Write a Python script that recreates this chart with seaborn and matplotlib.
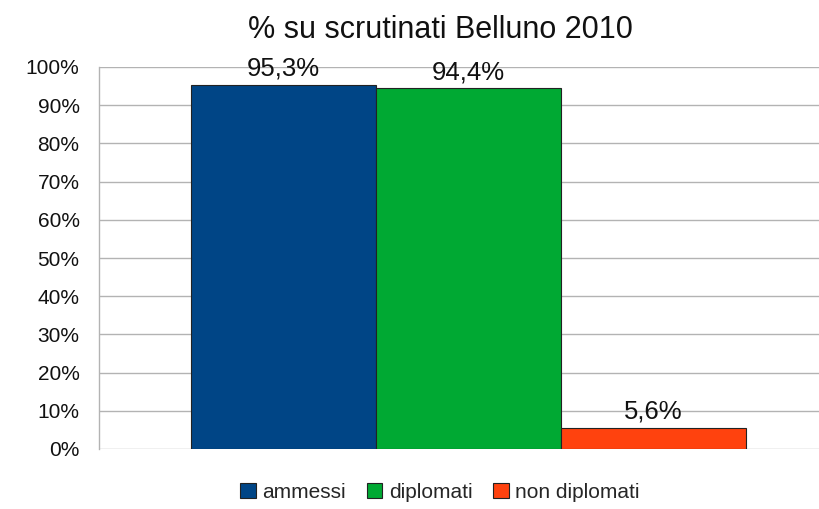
import matplotlib
matplotlib.use("Agg")
import matplotlib.pyplot as plt
from matplotlib.patches import Patch
import pandas as pd
import seaborn as sns

# data
title = "% su scrutinati Belluno 2010"
series = ["ammessi", "diplomati", "non diplomati"]
values = [95.3, 94.4, 5.6]
colors = ["#004586", "#00a933", "#ff420e"]
yticks = [0, 10, 20, 30, 40, 50, 60, 70, 80, 90, 100]

sns.set_style("white")
plt.rcParams["font.family"] = ["Liberation Sans", "DejaVu Sans"]

df = pd.DataFrame({"cat": ["Belluno"] * len(series), "serie": series, "valore": values})

fig = plt.figure(figsize=(8.2, 5.09), dpi=100)
ax = fig.add_axes([99 / 820, 1 - 449 / 509, (838 - 99) / 820, (449 - 67) / 509])

sns.barplot(data=df, x="cat", y="valore", hue="serie", palette=colors, saturation=1,
            width=0.75, edgecolor="#222222", linewidth=0.8, legend=False, ax=ax)

ax.set_xlim(-0.5, 0.5)
ax.set_ylim(0, 100)
ax.set_yticks(yticks)
ax.set_yticklabels([f"{t}%" for t in yticks], fontsize=15)
ax.set_xticks([-0.5])
ax.set_xticklabels([""])
ax.set_xlabel("")
ax.set_ylabel("")
ax.grid(axis="y", color="#b3b3b3", linewidth=1)
ax.set_axisbelow(True)
ax.tick_params(axis="y", length=8, color="#b3b3b3", width=1, pad=6, labelcolor="#111111")
ax.tick_params(axis="x", length=8, color="#b3b3b3", width=1)
for side in ["top", "right", "bottom"]:
    ax.spines[side].set_visible(False)
ax.spines["left"].set_color("#b3b3b3")
ax.spines["left"].set_linewidth(1)

for cont, v in zip(ax.containers, values):
    ax.bar_label(cont, labels=[f"{v:.1f}%".replace(".", ",")], padding=3,
                 fontsize=18.5, color="#111111")

fig.text(440 / 820, 1 - 30 / 509, title, ha="center", va="center",
         fontsize=22, color="#111111")

handles = [Patch(facecolor=c, edgecolor="#222222", linewidth=0.8, label=s)
           for s, c in zip(series, colors)]
fig.legend(handles=handles, loc="center", bbox_to_anchor=(440 / 820, 1 - 492 / 509),
           ncol=3, frameon=False, fontsize=15, handlelength=0.75, handleheight=0.75,
           handletextpad=0.3, columnspacing=1.0)

fig.savefig("out.png", dpi=100)
